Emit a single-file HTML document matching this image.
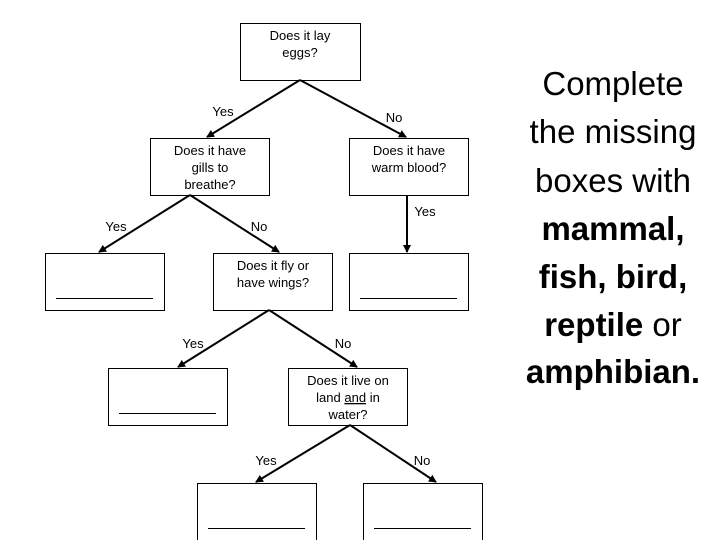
<!DOCTYPE html>
<html><head><style>
html,body{margin:0;padding:0;background:#fff;}
svg{display:block;}
.t{font-family:"Liberation Sans",sans-serif;font-size:13px;fill:#000;}
.b{font-family:"Liberation Sans",sans-serif;font-size:33px;fill:#000;}
</style></head><body>
<svg width="720" height="540" viewBox="0 0 720 540" xmlns="http://www.w3.org/2000/svg">
<defs><marker id="a" markerWidth="8" markerHeight="8" refX="7" refY="4" orient="auto" markerUnits="userSpaceOnUse"><path d="M0,0 L8,4 L0,8 z" fill="#000"/></marker></defs>
<g fill="#fff" stroke="#000" stroke-width="1">
<rect x="240.5" y="23.5" width="120" height="57"/>
<rect x="150.5" y="138.5" width="119" height="57"/>
<rect x="349.5" y="138.5" width="119" height="57"/>
<rect x="45.5" y="253.5" width="119" height="57"/>
<rect x="213.5" y="253.5" width="119" height="57"/>
<rect x="349.5" y="253.5" width="119" height="57"/>
<rect x="108.5" y="368.5" width="119" height="57"/>
<rect x="288.5" y="368.5" width="119" height="57"/>
<rect x="197.5" y="483.5" width="119" height="60"/>
<rect x="363.5" y="483.5" width="119" height="60"/>
</g>
<g stroke="#000" stroke-width="1">
<line x1="56" y1="298.5" x2="153" y2="298.5"/>
<line x1="360" y1="298.5" x2="457" y2="298.5"/>
<line x1="119" y1="413.5" x2="216" y2="413.5"/>
<line x1="208" y1="528.5" x2="305" y2="528.5"/>
<line x1="374" y1="528.5" x2="471" y2="528.5"/>
</g>
<g stroke="#000" stroke-width="2" marker-end="url(#a)">
<line x1="300" y1="80" x2="207" y2="137"/>
<line x1="300" y1="80" x2="406" y2="137"/>
<line x1="190" y1="195" x2="99" y2="252"/>
<line x1="190" y1="195" x2="279" y2="252"/>
<line x1="407" y1="195" x2="407" y2="252"/>
<line x1="269" y1="310" x2="178" y2="367"/>
<line x1="269" y1="310" x2="357" y2="367"/>
<line x1="350" y1="425" x2="256" y2="482"/>
<line x1="350" y1="425" x2="436" y2="482"/>
</g>
<g class="t" text-anchor="middle">
<text x="300" y="40">Does it lay</text><text x="300" y="57">eggs?</text>
<text x="210" y="155">Does it have</text><text x="210" y="172">gills to</text><text x="210" y="189">breathe?</text>
<text x="409" y="155">Does it have</text><text x="409" y="172">warm blood?</text>
<text x="273" y="270">Does it fly or</text><text x="273" y="287">have wings?</text>
<text x="348" y="385">Does it live on</text><text x="348" y="402">land <tspan text-decoration="underline">and</tspan> in</text><text x="348" y="419">water?</text>
<text x="223" y="116">Yes</text><text x="394" y="122">No</text>
<text x="116" y="231">Yes</text><text x="259" y="231">No</text>
<text x="425" y="216">Yes</text>
<text x="193" y="348">Yes</text><text x="343" y="348">No</text>
<text x="266" y="465">Yes</text><text x="422" y="465">No</text>
</g>
<g class="b" text-anchor="middle">
<text x="613" y="95">Complete</text>
<text x="613" y="143">the missing</text>
<text x="613" y="192">boxes with</text>
<text x="613" y="240" font-weight="bold">mammal,</text>
<text x="613" y="288" font-weight="bold">fish, bird,</text>
<text x="613" y="336"><tspan font-weight="bold">reptile</tspan> or</text>
<text x="613" y="383" font-weight="bold">amphibian.</text>
</g>
</svg>
</body></html>
